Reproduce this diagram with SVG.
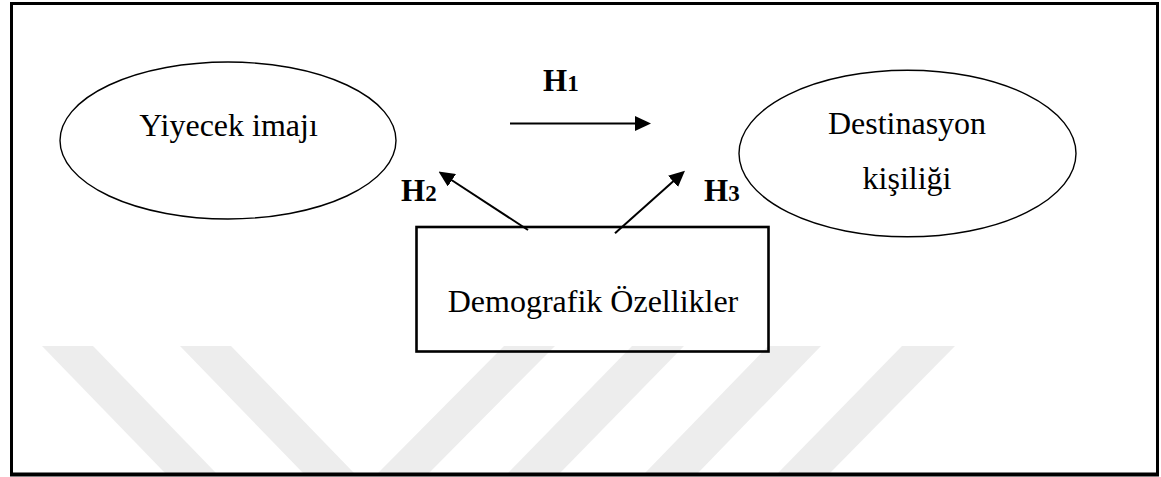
<svg xmlns="http://www.w3.org/2000/svg" width="1161" height="477" viewBox="0 0 1161 477">
<style>
.lbl{font-family:"Liberation Serif","Times New Roman",serif;font-size:32px;fill:#000}
.h{font-family:"Liberation Serif","Times New Roman",serif;font-size:31px;font-weight:bold;fill:#000}
.sub{font-size:23px}
.node{fill:none;stroke:#000;stroke-width:1.4}
.box{fill:none;stroke:#000;stroke-width:2.6}
.edge{stroke:#000;stroke-width:2;fill:none}
.wm{fill:#ededed}
</style>
<defs>
<marker id="ah" markerUnits="userSpaceOnUse" markerWidth="16" markerHeight="15" refX="6" refY="7.5" orient="auto">
<path d="M0,0 L16,7.5 L0,15 z" fill="#000"/>
</marker>
</defs>
<rect x="0" y="0" width="1161" height="477" fill="#fff"/>
<g id="watermark">
<polygon class="wm" points="42,346 93,346 216,473 165,473"/>
<polygon class="wm" points="180,346 231,346 354,473 303,473"/>
<polygon class="wm" points="504,346 555,346 429,473 378,473"/>
<polygon class="wm" points="632,346 684,346 560,473 508,473"/>
<polygon class="wm" points="768,346 821,346 698,473 645,473"/>
<polygon class="wm" points="902,346 955,346 830,473 778,473"/>
</g>
<rect x="11.5" y="3.5" width="1146" height="471" fill="none" stroke="#000" stroke-width="3"/>
<line x1="10" y1="474.5" x2="1159" y2="474.5" stroke="#000" stroke-width="4"/>
<g id="yiyecek">
<ellipse class="node" cx="228" cy="140.5" rx="168" ry="78.5"/>
<text class="lbl" x="228.5" y="136" text-anchor="middle">Yiyecek imajı</text>
</g>
<g id="destinasyon">
<ellipse class="node" cx="907.5" cy="153.5" rx="168.5" ry="83.3"/>
<text class="lbl" x="907" y="134" text-anchor="middle">Destinasyon</text>
<text class="lbl" x="907" y="189" text-anchor="middle">kişiliği</text>
</g>
<g id="demografik">
<rect class="box" x="416.5" y="227" width="352" height="124.5"/>
<text class="lbl" x="593" y="312" text-anchor="middle">Demografik Özellikler</text>
</g>
<g id="connectors">
<line class="edge" x1="510" y1="123.5" x2="641" y2="123.5" marker-end="url(#ah)"/>
<line class="edge" x1="528" y1="230" x2="446.9" y2="177" marker-end="url(#ah)"/>
<line class="edge" x1="615" y1="233.3" x2="677.5" y2="177.4" marker-end="url(#ah)"/>
<text class="h" x="543" y="91">H<tspan class="sub">1</tspan></text>
<text class="h" x="401" y="201">H<tspan class="sub">2</tspan></text>
<text class="h" x="704" y="200.5">H<tspan class="sub">3</tspan></text>
</g>
</svg>
